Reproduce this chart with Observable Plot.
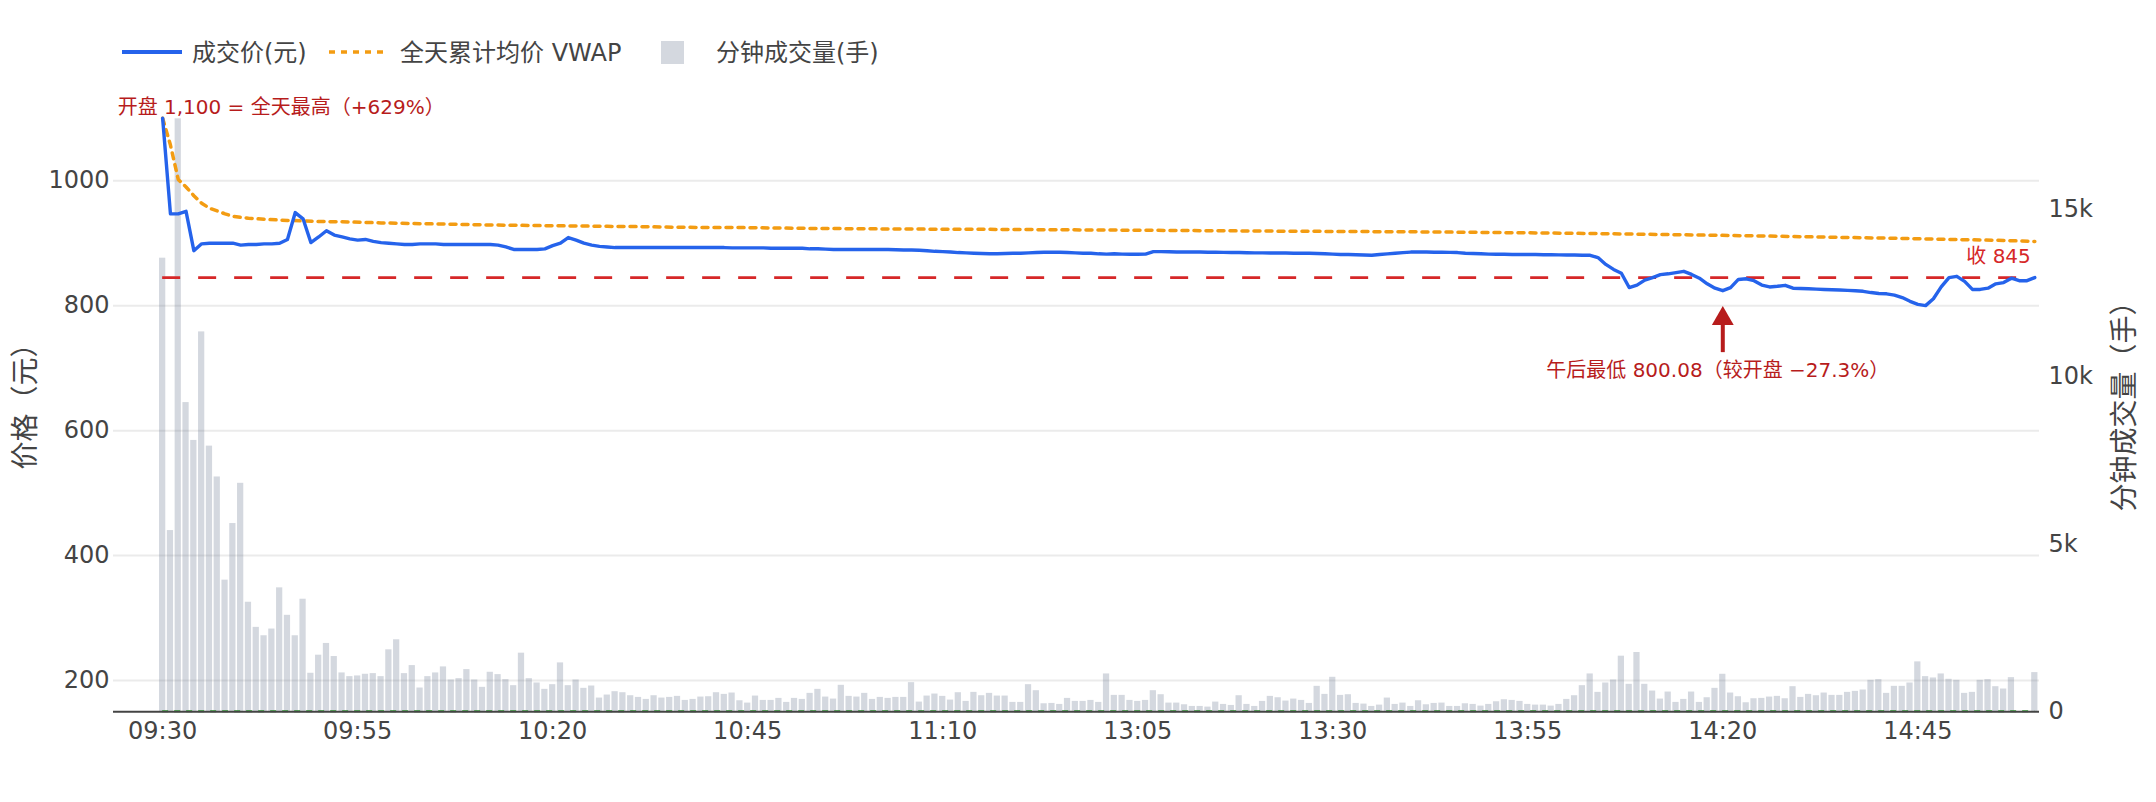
<!DOCTYPE html>
<html>
<head>
<meta charset="utf-8">
<script src="https://cdn.jsdelivr.net/npm/d3@7"></script>
<script src="https://cdn.jsdelivr.net/npm/@observablehq/plot@0.6"></script>
<style>
  html, body { margin: 0; padding: 0; background: #fff; }
  #wrap { width: 2156px; }
  #legend { position: relative; width: 2156px; height: 80px; font-family: 'DejaVu Sans','Noto Sans CJK SC',sans-serif; font-size: 24px; color: #444; }
  #legend .lbl { position: absolute; top: 53px; transform: translateY(-50%); line-height: 1; white-space: nowrap; }
  #legend svg { position: absolute; }
  #chart { position: relative; width: 2156px; height: 722px; }
  #chart > svg { position: absolute; left: 0; top: 0; }
</style>
</head>
<body>
<div id="wrap">
  <div id="legend"></div>
  <div id="chart"></div>
</div>
<script>
// ---------- data ----------
function session(h0, m0, h1, m1) {
  const out = [];
  for (let t = h0 * 60 + m0; t <= h1 * 60 + m1; t++) {
    out.push(String(Math.floor(t / 60)).padStart(2, "0") + ":" + String(t % 60).padStart(2, "0"));
  }
  return out;
}
// minute categories: morning 09:30-11:30, afternoon 13:01-15:00
const times = [...session(9, 30, 11, 30), ...session(13, 1, 15, 0)];

const tickLabels = ["09:30", "09:55", "10:20", "10:45", "11:10", "13:05", "13:30", "13:55", "14:20", "14:45"];
const priceTicks = [200, 400, 600, 800, 1000];
const volumeTicks = [0, 5000, 10000, 15000];

// 成交价(元)
const price = [
  1100, 947, 947, 951, 888, 899, 900, 900, 900, 900,
  897, 898, 898, 899, 899, 900, 906, 949, 939, 901,
  910, 920, 913, 910, 907, 905, 906, 903, 901, 900,
  899, 898, 898, 899, 899, 899, 898, 898, 898, 898,
  898, 898, 898, 897, 894, 890, 890, 890, 890, 891,
  896, 900, 909, 905, 900, 897, 895, 894, 893, 893,
  893, 893, 893, 893, 893, 893, 893, 893, 893, 893,
  893, 893, 893, 892.5, 892.5, 892.5, 892.5, 892.5, 892, 892,
  892, 892, 892, 891, 891, 890.5, 890, 890, 890, 890,
  890, 890, 890, 890, 889.5, 889, 889, 888.6, 888, 887,
  886.5, 886, 885, 884.5, 884, 883.5, 883, 883, 883.5, 884,
  884, 884.5, 885, 885.5, 885.6, 885.6, 885, 884.5, 884, 884,
  883, 882.5, 883, 882.5, 882.3, 882.3, 882.5, 886.5, 886.5, 886.3,
  886, 886, 886, 885.8, 885.6, 885.5, 885.3, 885, 885, 884.7,
  884.5, 884.5, 884.3, 884.3, 884.2, 884, 884, 884, 883.5, 883,
  882.5, 882, 881.8, 881.5, 881, 880.7, 882, 883, 884, 885,
  885.8, 886, 886, 885.6, 885.5, 885.3, 885, 884, 883.5, 883,
  882.5, 882.3, 882.2, 882, 882, 882, 881.8, 881.6, 881.4, 881.3,
  881.2, 881, 880.8, 880.7, 877, 866, 858, 852, 829, 833,
  841, 845, 849.7, 851, 853, 855, 850, 844, 835, 828,
  824, 829, 842, 843, 840, 833, 830, 831, 832.6, 828,
  827.5, 827, 826.5, 826, 825.5, 825, 824.5, 824, 823, 821,
  819.5, 819, 817, 813, 807, 802, 800.08, 811, 830, 845,
  847, 839, 826, 826, 828, 835, 837, 844, 840, 840,
  845
];

// 分钟成交量(手)
const volume = [
  13540, 5410, 17700, 9230, 8100, 11340, 7930, 7010, 3930, 5620,
  6820, 3270, 2520, 2270, 2470, 3700, 2880, 2270, 3360, 1150,
  1690, 2040, 1650, 1160, 1050, 1070, 1120, 1140, 1050, 1850,
  2150, 1140, 1380, 710, 1050, 1160, 1340, 950, 990, 1260,
  950, 730, 1180, 1110, 960, 780, 1750, 990, 860, 670,
  810, 1460, 780, 950, 700, 770, 410, 500, 600, 570,
  480, 430, 370, 480, 410, 430, 460, 340, 370, 440,
  450, 570, 520, 560, 330, 260, 470, 340, 340, 400,
  280, 400, 370, 550, 670, 440, 380, 790, 460, 440,
  550, 370, 430, 400, 430, 430, 870, 290, 470, 530,
  460, 350, 570, 310, 580, 480, 550, 470, 470, 280,
  280, 810, 630, 240, 250, 220, 400, 310, 310, 340,
  280, 1130, 490, 490, 340, 310, 340, 630, 510, 260,
  260, 210, 160, 160, 140, 290, 220, 190, 480, 220,
  160, 310, 460, 420, 320, 380, 340, 250, 760, 520,
  1030, 490, 510, 250, 230, 160, 200, 410, 220, 260,
  160, 330, 210, 250, 260, 160, 160, 240, 220, 170,
  220, 300, 360, 340, 310, 220, 200, 200, 170, 220,
  370, 480, 780, 1130, 580, 860, 950, 1660, 820, 1770,
  820, 620, 380, 590, 280, 370, 590, 280, 420, 700,
  1120, 560, 450, 270, 390, 400, 440, 460, 390, 750,
  430, 520, 480, 560, 490, 490, 580, 610, 650, 940,
  960, 550, 760, 760, 860, 1490, 1050, 1010, 1130, 970,
  940, 550, 580, 940, 960, 750, 680, 1020, 0, 0,
  1170
];

// 全天累计均价 VWAP (read at these minute indices)
const vwapIndex = [0, 1, 2, 3, 4, 5, 6, 8, 9, 11, 13, 16, 20, 24, 28, 33, 37, 41, 48, 57, 61, 67, 75, 82, 94, 107, 122, 143, 163, 180, 193, 205, 212, 223, 229, 236, 240];
const vwapValue = [1100, 1057, 1002, 990, 976, 964, 956, 947, 943, 940, 938.3, 936.5, 934.8, 934, 932.5, 931.2, 930.5, 929.4, 928.2, 927, 926.5, 925.4, 924.9, 923.8, 922.7, 922.1, 921, 919.3, 918, 916, 913.8, 911.6, 910, 907.7, 906.1, 904.4, 902.8];

const closePrice = 845;
const prevClose = 150.89;

const openNote = {i: 0, y: 1100, text: "开盘 1,100 = 全天最高（+629%）"};
const lowNote = {i: 200, y: 800.08, text: "午后最低 800.08（较开盘 −27.3%）"};
const closeNote = {i: 240, y: 845, text: "收 845"};

const legendLabels = ["成交价(元)", "全天累计均价 VWAP", "分钟成交量(手)"];
const axisTitles = {price: "价格（元）", volume: "分钟成交量（手）"};

if (price.length !== times.length || volume.length !== times.length) {
  throw new Error("length mismatch " + times.length + " " + price.length + " " + volume.length);
}

// ---------- colours ----------
const BLUE = "#2563eb", ORANGE = "#f39c12", BAR = "#64748b", BAR_OP = 0.28;
const RED = "#d62728", DARKRED = "#b71c1c", GREEN = "#2ca02c", INK = "#444";

const rows = times.map((t, i) => ({i, t, p: price[i], v: volume[i]}));
const vwapRows = vwapIndex.map((i, k) => ({i, p: vwapValue[k]}));
const xTicks = tickLabels.map(t => times.indexOf(t));

// ---------- layout ----------
const FONT = "'DejaVu Sans','Noto Sans CJK SC',sans-serif";
const common = {
  width: 2156, height: 722,
  marginTop: 6.5, marginBottom: 90.7, marginLeft: 113, marginRight: 117,
  style: {fontFamily: FONT, fontSize: "24px", background: "transparent", overflow: "visible"}
};
const xDomain = [-6.3, 240.6];
const priceDomain = [150, 1150];
const volumeDomain = [0, 18650];

// layer 1: price grid
const gridLayer = Plot.plot({
  ...common,
  x: {domain: xDomain, axis: null},
  y: {domain: priceDomain, axis: null},
  marks: [Plot.ruleY(priceTicks, {stroke: "#ebebeb", strokeWidth: 2})]
});

// layer 2: volume bars + right axis
const volumeLayer = Plot.plot({
  ...common,
  x: {domain: xDomain, axis: null},
  y: {domain: volumeDomain},
  marks: [
    Plot.rect(rows, {x1: d => d.i - 0.4, x2: d => d.i + 0.4, y1: 0, y2: "v", fill: BAR, fillOpacity: BAR_OP}),
    Plot.axisY({anchor: "right", ticks: volumeTicks, tickFormat: d3.format("~s"), tickSize: 0, tickPadding: 9, fontSize: 24, fill: INK, label: null}),
    Plot.text([axisTitles.volume], {text: d => d, frameAnchor: "right", textAnchor: "middle", dx: 86, rotate: -90, fontSize: 28, fill: INK})
  ]
});

// layer 3: price lines, annotations, axes
const priceLayer = Plot.plot({
  ...common,
  x: {domain: xDomain},
  y: {domain: priceDomain},
  marks: [
    Plot.ruleY([prevClose], {x1: 0, x2: times.length - 1, stroke: GREEN, strokeWidth: 2.2, strokeDasharray: "6,6"}),
    Plot.ruleY([closePrice], {x1: 0, x2: times.length - 1, stroke: RED, strokeWidth: 2.8, strokeDasharray: "18,18"}),
    Plot.line(vwapRows, {x: "i", y: "p", stroke: ORANGE, strokeWidth: 3.5, strokeDasharray: "6,6"}),
    Plot.line(rows, {x: "i", y: "p", stroke: BLUE, strokeWidth: 3.4, strokeLinejoin: "round"}),
    Plot.ruleY([priceDomain[0]], {stroke: INK, strokeWidth: 2}),
    Plot.axisY({ticks: priceTicks, tickFormat: d3.format("d"), tickSize: 0, tickPadding: 4, fontSize: 24, fill: INK, label: null}),
    Plot.axisX({ticks: xTicks, tickFormat: i => times[i], tickSize: 0, tickPadding: 10, fontSize: 24, fill: INK, label: null}),
    Plot.text([axisTitles.price], {text: d => d, frameAnchor: "left", textAnchor: "middle", dx: -87, rotate: -90, fontSize: 28, fill: INK}),
    // open annotation
    Plot.text([openNote], {x: "i", y: "y", text: "text", textAnchor: "start", dx: -45, dy: -11, fontSize: 20, fill: DARKRED}),
    // close label
    Plot.text([closeNote], {x: "i", y: "y", text: "text", textAnchor: "end", dx: -4, dy: -20.5, fontSize: 20, fill: RED}),
    // low annotation arrow
    Plot.ruleX([lowNote], {x: "i", y1: "y", y2: "y", insetTop: 12, insetBottom: -47, stroke: DARKRED, strokeWidth: 4}),
    Plot.dot([lowNote], {x: "i", y: "y", symbol: "triangle", r: 8.1, fill: DARKRED, stroke: "none", dy: 13}),
    Plot.text([lowNote], {x: "i", y: "y", text: "text", dy: 64.5, dx: -5, fontSize: 20, fill: DARKRED})
  ]
});

const chart = document.getElementById("chart");
chart.append(gridLayer, volumeLayer, priceLayer);

// ---------- legend ----------
const legend = document.getElementById("legend");
const NS = "http://www.w3.org/2000/svg";
function swatch(left, top, w, h, build) {
  const s = document.createElementNS(NS, "svg");
  s.setAttribute("width", w); s.setAttribute("height", h);
  s.style.left = left + "px"; s.style.top = top + "px";
  build(s);
  legend.append(s);
}
function el(tag, attrs) {
  const e = document.createElementNS(NS, tag);
  for (const k in attrs) e.setAttribute(k, attrs[k]);
  return e;
}
swatch(122, 42, 60, 20, s => s.append(el("line", {x1: 0, y1: 10, x2: 60, y2: 10, stroke: BLUE, "stroke-width": 4})));
swatch(329, 42, 56, 20, s => s.append(el("line", {x1: 0, y1: 10, x2: 56, y2: 10, stroke: ORANGE, "stroke-width": 3.5, "stroke-dasharray": "6,6"})));
swatch(661, 41, 24, 24, s => s.append(el("rect", {x: 0, y: 0, width: 23, height: 23, fill: BAR, "fill-opacity": BAR_OP})));
const labelLeft = [192, 400, 716];
legendLabels.forEach((t, k) => {
  const span = document.createElement("span");
  span.className = "lbl";
  span.style.left = labelLeft[k] + "px";
  span.textContent = t;
  legend.append(span);
});
</script>
</body>
</html>
